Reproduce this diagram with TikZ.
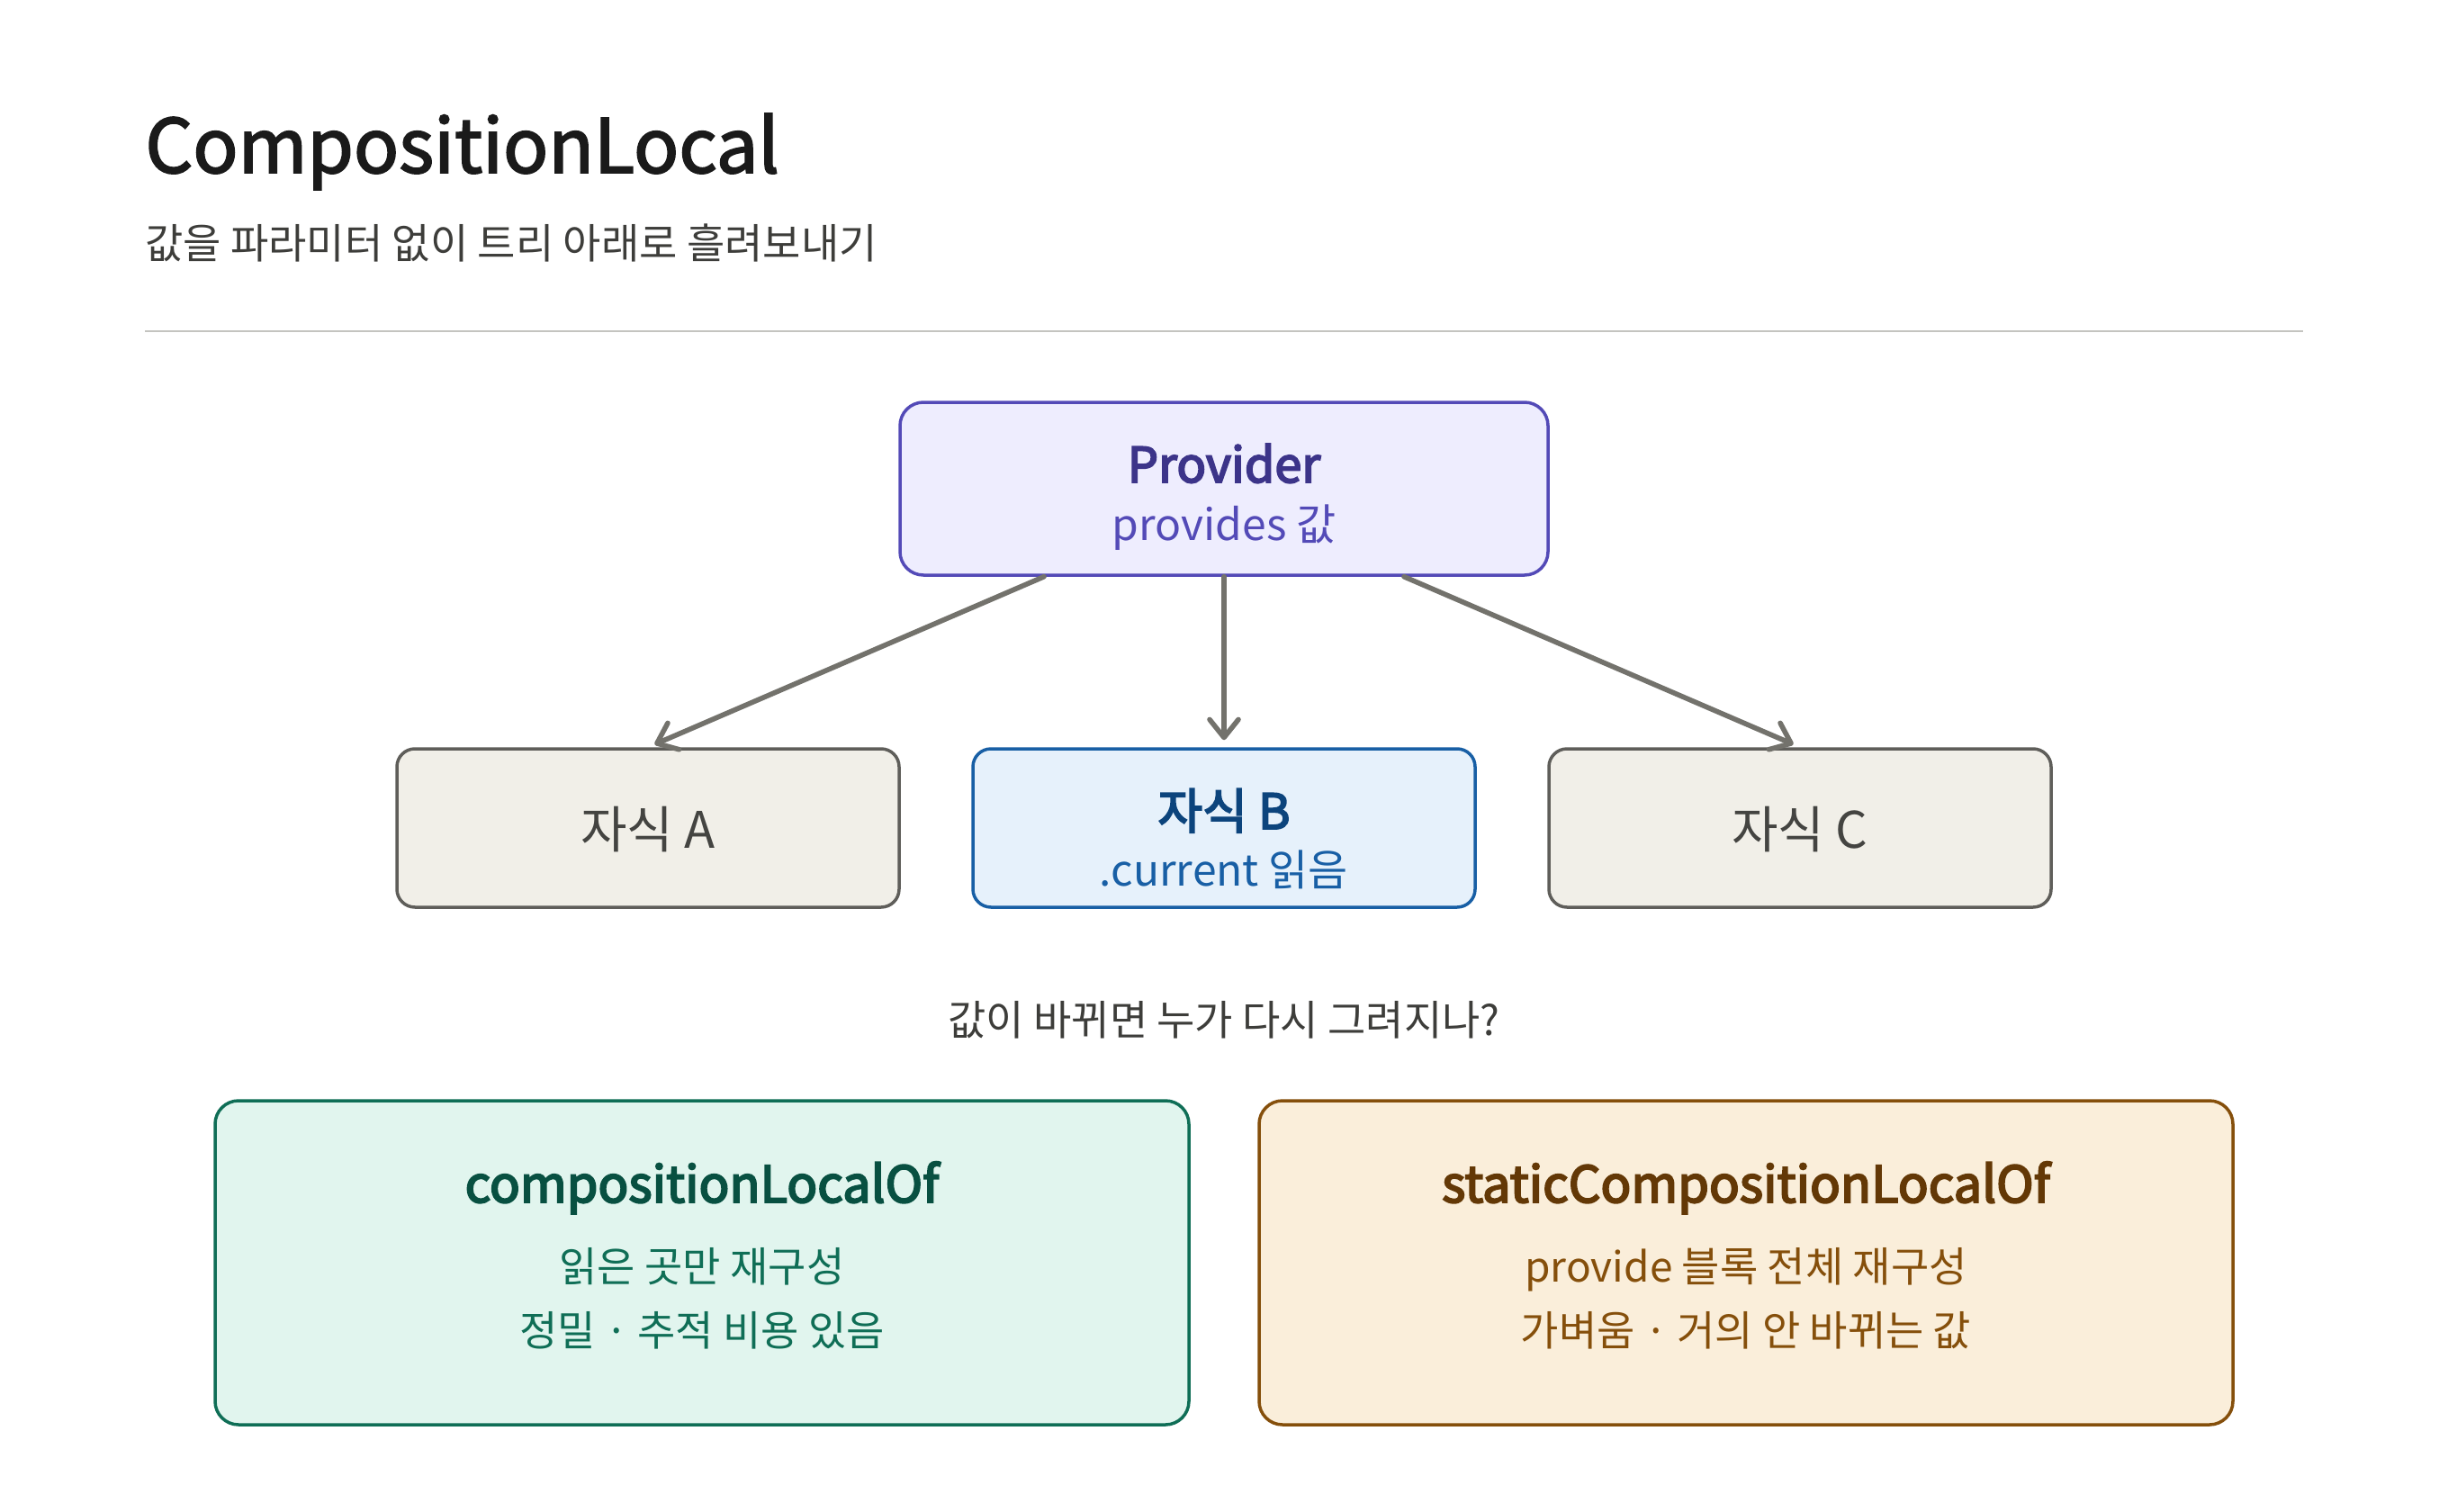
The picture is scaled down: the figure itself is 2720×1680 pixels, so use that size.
\documentclass[tikz,border=0pt]{standalone}
\usepackage{fontspec}
\setmainfont{Noto Sans CJK KR}
\newfontfamily\mediumface[FakeBold=2.2]{Noto Sans CJK KR}
\newfontfamily\semiface[FakeBold=3.5]{Noto Sans CJK KR}
\usetikzlibrary{positioning,arrows.meta,calc}
\definecolor{ink}{HTML}{1A1A1A}
\definecolor{subink}{HTML}{3D3D3A}
\definecolor{rulegray}{HTML}{C4C4C0}
\definecolor{arrowgray}{HTML}{73726C}
\definecolor{provfill}{HTML}{EEEDFE}
\definecolor{provline}{HTML}{534AB7}
\definecolor{provdark}{HTML}{3C3489}
\definecolor{kidfill}{HTML}{F1EFE8}
\definecolor{kidline}{HTML}{5F5E5A}
\definecolor{kidink}{HTML}{444441}
\definecolor{bluefill}{HTML}{E6F1FB}
\definecolor{blueline}{HTML}{185FA5}
\definecolor{bluedark}{HTML}{0C447C}
\definecolor{greenfill}{HTML}{E1F5EE}
\definecolor{greenline}{HTML}{0F6E56}
\definecolor{greendark}{HTML}{085041}
\definecolor{amberfill}{HTML}{FAEEDA}
\definecolor{amberline}{HTML}{854F0B}
\definecolor{amberdark}{HTML}{633806}
\tikzset{
  lbl/.style={inner sep=0pt,anchor=base},
  head/.style={lbl,font=\semiface\fontsize{28}{33}\selectfont},
  kidtxt/.style={lbl,font=\fontsize{28}{33}\selectfont},
  note/.style={lbl,font=\fontsize{23}{28}\selectfont},
  card/.style={draw,line width=1.75pt},
  kidbox/.style={card,minimum width=279pt,minimum height=88pt,rounded corners=10pt},
  bigbox/.style={card,minimum width=541pt,minimum height=180pt,rounded corners=13pt},
  flow/.style={->,draw=arrowgray,line width=2.8pt,line cap=round,line join=round,shorten >=4pt},
}

\begin{document}
\begin{tikzpicture}[x=0.5pt,y=-0.5pt,>={Straight Barb[length=10pt,width=16pt,line cap=round,line join=round]}]

\fill[white] (0,0) rectangle (2720,1680);
\useasboundingbox (0,0) rectangle (2720,1680);

% heading
\node[lbl,anchor=base west,text=ink,font=\mediumface\fontsize{41.5}{48}\selectfont] (title) at (161,192) {CompositionLocal};
\node[lbl,anchor=base west,text=subink,font=\fontsize{23}{28}\selectfont] (subtitle) at (161,288) {값을 파라미터 없이 트리 아래로 흘려보내기};
\draw[rulegray,line width=1pt] (161,368) -- (2559,368);

% provider
\node[card,fill=provfill,draw=provline,rounded corners=13pt,minimum width=360pt,minimum height=96pt] (prov) at (1360,543) {};
\node[head,text=provdark,font=\semiface\fontsize{27}{32}\selectfont] (provT) at (1360,536) {Provider};
\node[note,text=provline,font=\fontsize{24}{29}\selectfont] (provS) at (1360,600) {provides 값};

% children
\node[kidbox,fill=kidfill,draw=kidline] (kidA) at (720,920) {};
\node[kidbox,fill=bluefill,draw=blueline] (kidB) at (1360,920) {};
\node[kidbox,fill=kidfill,draw=kidline] (kidC) at (2000,920) {};
\node[kidtxt,text=kidink] (kidAT) at (720,942) {자식 A};
\node[head,text=bluedark,font=\semiface\fontsize{27}{32}\selectfont] (kidBT) at (1360,921) {자식 B};
\node[note,text=blueline,font=\fontsize{24}{29}\selectfont] (kidBS) at (1360,984) {.current 읽음};
\node[kidtxt,text=kidink] (kidCT) at (2000,942) {자식 C};

\draw[flow] ($(prov.south)+(-200,0)$) -- (kidA.north);
\draw[flow] (prov.south) -- (kidB.north);
\draw[flow] ($(prov.south)+(200,0)$) -- (kidC.north);

% question
\node[note,text=subink] (ask) at (1360,1150) {값이 바뀌면 누가 다시 그려지나?};

% two kinds
\node[bigbox,fill=greenfill,draw=greenline] (dyn) at (780,1403) {};
\node[head,text=greendark] (dynT) at (780,1336) {compositionLocalOf};
\node[note,text=greenline] (dynA) at (780,1424) {읽은 곳만 재구성};
\node[note,text=greenline] (dynB) at (780,1495) {정밀 · 추적 비용 있음};

\node[bigbox,fill=amberfill,draw=amberline] (stat) at (1940,1403) {};
\node[head,text=amberdark] (statT) at (1940,1336) {staticCompositionLocalOf};
\node[note,text=amberline] (statA) at (1940,1424) {provide 블록 전체 재구성};
\node[note,text=amberline] (statB) at (1940,1495) {가벼움 · 거의 안 바뀌는 값};

\end{tikzpicture}
\end{document}
